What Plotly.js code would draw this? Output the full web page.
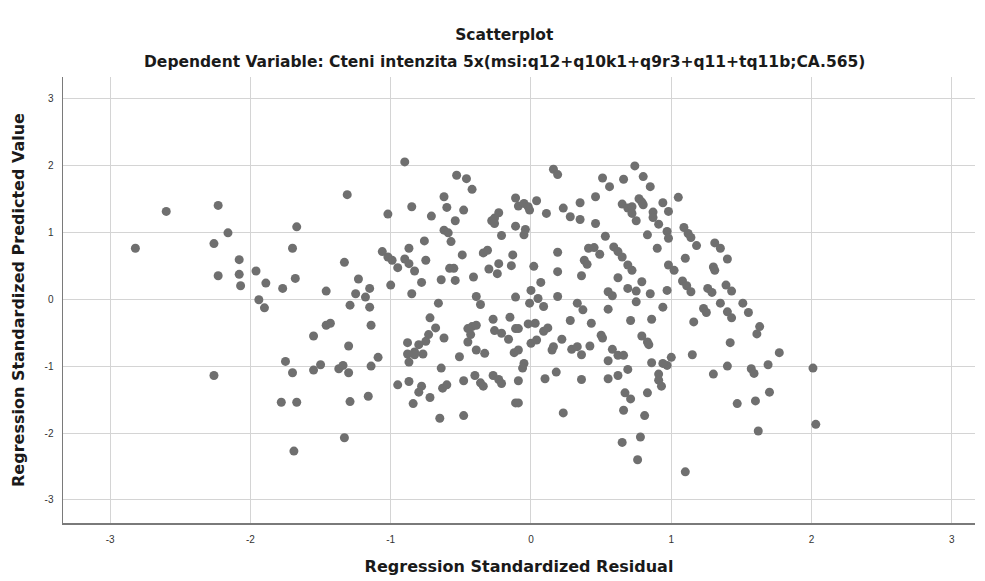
<!DOCTYPE html>
<html>
<head>
<meta charset="utf-8">
<script src="https://cdn.plot.ly/plotly-3.0.1.min.js"></script>
<style>html,body{margin:0;padding:0;background:#fff;}#chart{width:985px;height:581px;}</style>
</head>
<body>
<div id="chart"></div>
<script>
// Regression Standardized Residual (x) and Regression Standardized Predicted Value (y)
var residual = [
-2.82,-2.60,-2.23,-2.16,-2.26,-2.08,-2.23,-2.08,-2.07,-1.96,-1.89,-1.77,-1.94,-1.90,-1.67,-1.70,-1.68,-1.46,-1.31,-1.33,
-1.23,-1.25,-1.18,-1.29,-1.15,-1.15,-1.14,-1.46,-1.43,-1.55,-1.30,-1.75,-1.70,-1.55,-1.50,-1.37,-1.34,-1.30,-1.14,-2.26,
-1.78,-1.67,-1.29,-1.16,-1.33,-1.69,-1.09,
-0.90,-1.02,-0.85,-0.53,-0.46,-0.42,-0.62,-0.60,-0.71,-0.48,-0.54,-0.62,-0.59,-0.57,-0.76,-0.87,-1.06,-1.02,-0.99,-0.95,
-0.90,-0.87,-0.83,-0.75,-0.49,-0.58,-0.55,-0.78,-0.64,-0.54,-0.41,-1.00,-0.85,-0.66,-0.39,-0.36,-0.34,-0.31,-0.30,-0.24,
-0.23,-0.28,-0.26,-0.23,-0.26,-0.21,-0.11,-0.09,-0.05,-0.02,-0.01,0.04,0.11,-0.11,-0.04,-0.05,-0.13,-0.14,0.02,0.07,
0.00,-0.11,-0.01,0.05,0.09,0.16,0.19,0.23,0.28,0.35,0.35,0.19,0.19,0.19,0.36,0.38,0.40,0.41,0.45,0.49,
0.46,0.46,0.51,0.56,0.53,0.59,0.62,0.65,0.62,0.69,0.72,0.55,0.58,0.69,0.75,0.79,0.85,0.33,0.75,0.66,
0.74,0.80,0.85,0.65,0.69,0.72,0.72,0.75,0.77,0.79,0.80,0.87,0.87,0.83,0.91,0.90,0.94,0.97,0.98,0.98,
0.98,0.97,
1.05,1.09,1.12,1.14,1.18,1.10,1.31,1.35,1.40,1.30,1.31,1.02,1.08,1.11,1.14,1.26,1.29,1.39,1.43,1.35,1.51,
1.23,1.25,1.40,1.43,1.55,1.16,1.63,1.61,1.42,1.00,0.97,1.15,1.77,1.69,1.57,1.59,1.40,1.30,2.01,1.70,
1.60,1.47,2.03,1.62,1.10,
-0.72,-0.68,-0.62,-0.73,-0.75,-0.80,-0.83,-0.88,-0.88,-0.83,-0.77,-0.87,-0.64,-0.95,-0.87,-0.78,-0.80,-0.84,-0.72,-0.63,
-0.60,-0.65,-0.48,-0.48,-0.45,-0.42,-0.39,-0.43,-0.45,-0.51,-0.39,-0.33,-0.40,-0.36,-0.34,-0.27,-0.26,-0.21,-0.15,-0.16,
-0.11,-0.09,-0.12,-0.09,-0.05,-0.06,-0.27,-0.23,-0.21,-0.09,-0.11,-0.09,-0.02,0.03,0.00,0.04,0.09,0.12,0.10,0.18,
0.15,0.16,0.22,0.28,0.37,0.43,0.29,0.33,0.36,0.42,0.36,0.23,0.55,0.50,0.51,0.58,0.62,0.66,0.55,0.69,
0.62,0.55,0.67,0.71,0.66,0.81,0.65,0.78,0.76,0.71,0.79,0.83,0.84,0.86,0.94,0.86,0.94,0.91,0.91,0.93,
0.83
];
var predicted = [
0.76,1.31,1.40,0.99,0.83,0.59,0.35,0.37,0.20,0.42,0.24,0.16,-0.01,-0.13,1.08,0.76,0.31,0.12,1.56,0.55,
0.30,0.08,0.03,-0.09,0.16,-0.12,-0.39,-0.39,-0.36,-0.55,-0.70,-0.93,-1.10,-1.06,-0.98,-1.04,-0.99,-1.10,-1.00,-1.14,
-1.54,-1.54,-1.53,-1.45,-2.07,-2.27,-0.87,
2.05,1.27,1.38,1.85,1.80,1.64,1.53,1.37,1.24,1.33,1.17,1.03,0.99,0.86,0.87,0.76,0.71,0.63,0.58,0.47,
0.60,0.53,0.42,0.58,0.66,0.46,0.46,0.25,0.29,0.28,0.33,0.21,0.08,-0.06,0.04,-0.08,0.69,0.73,0.45,0.38,
0.53,1.17,1.21,1.29,1.13,0.95,1.51,1.39,1.43,1.38,1.33,1.47,1.28,1.09,1.04,0.96,0.66,0.50,0.49,0.25,
0.13,0.03,-0.06,0.01,-0.11,1.94,1.86,1.36,1.23,1.44,1.19,0.70,0.41,0.04,0.35,0.58,0.52,0.76,0.77,0.67,
1.13,1.53,1.81,1.68,0.94,0.78,0.71,0.63,0.32,0.51,0.43,0.11,0.05,0.16,0.12,0.26,0.08,-0.06,-0.04,1.79,
1.99,1.83,1.68,1.42,1.36,1.38,1.28,1.17,1.50,1.45,1.41,1.30,1.22,0.96,1.12,0.76,1.44,1.01,0.91,1.31,
0.51,0.13,
1.52,1.07,0.98,0.92,0.80,0.61,0.84,0.76,0.60,0.48,0.43,0.43,0.27,0.20,0.11,0.16,0.10,0.21,0.12,-0.06,-0.06,
-0.14,-0.20,-0.19,-0.28,-0.20,-0.34,-0.41,-0.52,-0.65,-0.87,-0.99,-0.83,-0.80,-0.98,-1.04,-1.11,-1.00,-1.12,-1.03,-1.39,
-1.52,-1.56,-1.87,-1.97,-2.58,
-0.28,-0.43,-0.58,-0.53,-0.63,-0.68,-0.79,-0.65,-0.82,-0.83,-0.82,-0.94,-1.03,-1.28,-1.23,-1.30,-1.39,-1.56,-1.47,-1.33,
-1.28,-1.78,-1.74,-1.22,-0.44,-0.41,-0.39,-0.53,-0.64,-0.86,-0.76,-0.81,-1.14,-1.25,-1.30,-0.30,-0.47,-0.51,-0.27,-0.60,
-0.44,-0.44,-0.80,-0.76,-0.96,-1.03,-1.14,-1.20,-1.26,-1.22,-1.55,-1.55,-0.37,-0.36,-0.66,-0.61,-0.48,-0.43,-1.19,-1.09,
-0.76,-0.71,-0.60,-0.32,-0.16,-0.36,-0.75,-0.71,-0.83,-0.70,-1.20,-1.70,-0.15,-0.54,-0.58,-0.75,-0.84,-0.84,-0.92,-1.05,
-1.14,-1.19,-1.40,-1.49,-1.66,-1.74,-2.14,-2.06,-2.40,-0.32,-0.55,-0.64,-0.68,-0.30,-0.12,-0.95,-0.96,-1.12,-1.21,-1.30,
-1.40
];
var tickValues = [-3, -2, -1, 0, 1, 2, 3];
var tickLabels = ["-3", "-2", "-1", "0", "1", "2", "3"];
var chartTitle = "Scatterplot";
var subTitle = "Dependent Variable: Cteni intenzita 5x(msi:q12+q10k1+q9r3+q11+tq11b;CA.565)";
var xTitle = "Regression Standardized Residual";
var yTitle = "Regression Standardized Predicted Value";

var titleFont = {family: "DejaVu Sans", size: 15.5, color: "#1a1a1a", weight: "bold"};

var trace = {
  type: "scatter",
  mode: "markers",
  x: residual,
  y: predicted,
  marker: {color: "#6f6f6f", size: 9, line: {width: 0}},
  hoverinfo: "x+y"
};

var layout = {
  width: 985,
  height: 581,
  paper_bgcolor: "#ffffff",
  plot_bgcolor: "#ffffff",
  showlegend: false,
  margin: {l: 63, r: 10, t: 77, b: 58, pad: 0},
  font: {family: "Liberation Sans, Arial, sans-serif", color: "#222222"},
  title: {
    text: chartTitle,
    font: titleFont,
    x: 0.512, xref: "container", xanchor: "center",
    y: 1 - 35 / 581, yref: "container", yanchor: "middle"
  },
  annotations: [{
    text: subTitle,
    xref: "paper", yref: "paper",
    x: 0.4836, y: 1.0337, xanchor: "center", yanchor: "middle",
    showarrow: false,
    font: titleFont
  }],
  xaxis: {
    range: [-3.336, 3.165],
    tickvals: tickValues,
    ticktext: tickLabels,
    ticks: "outside", ticklen: 6, tickcolor: "rgba(0,0,0,0)",
    tickfont: {size: 10, color: "#333333"},
    showgrid: true, gridcolor: "#d4d4d4", gridwidth: 1,
    zeroline: false,
    showline: true, linecolor: "#7a7a7a", linewidth: 1.5,
    title: {text: xTitle, standoff: 17, font: {family: "DejaVu Sans", size: 16, color: "#1a1a1a", weight: "bold"}},
    fixedrange: true
  },
  yaxis: {
    range: [-3.344, 3.318],
    tickvals: tickValues,
    ticktext: tickLabels,
    ticks: "outside", ticklen: 6, tickcolor: "rgba(0,0,0,0)",
    tickfont: {size: 10, color: "#333333"},
    showgrid: true, gridcolor: "#d4d4d4", gridwidth: 1,
    zeroline: false,
    showline: true, linecolor: "#7a7a7a", linewidth: 1.5,
    title: {text: yTitle, standoff: 16, font: {family: "DejaVu Sans", size: 16, color: "#1a1a1a", weight: "bold"}},
    fixedrange: true
  }
};

Plotly.newPlot("chart", [trace], layout, {displayModeBar: false, staticPlot: true});
</script>
</body>
</html>
